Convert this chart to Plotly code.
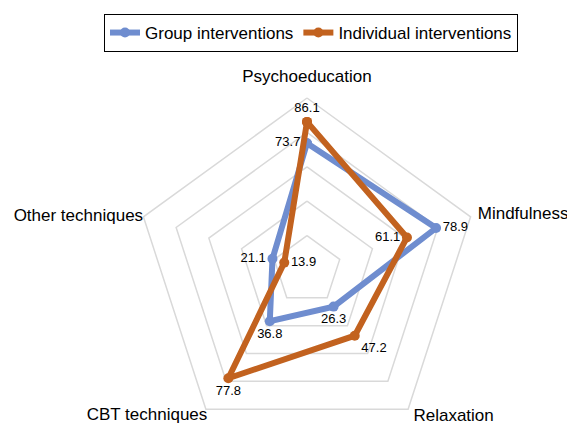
import plotly.graph_objects as go

categories = ["Psychoeducation", "Mindfulness", "Relaxation", "CBT techniques", "Other techniques"]
group_values = [73.7, 78.9, 26.3, 36.8, 21.1]
individual_values = [86.1, 61.1, 47.2, 77.8, 13.9]
grid_levels = [20, 40, 60, 80, 100]

group_label_pos = ["middle left", "middle right", "bottom center", "bottom center", "middle left"]
indiv_label_pos = ["top center", "middle left", "bottom right", "bottom center", "middle right"]
cat_label_r = [111.6, 104.4, 105.3, 98.6, 100.2]
cat_label_pos = ["middle center", "middle right", "middle right", "bottom left", "middle left"]

BLUE = "#6f8dcf"
ORANGE = "#c2621f"
FONT = "Liberation Sans, Arial, Helvetica, sans-serif"

W, H = 575, 460
CX, CY, RPX = 299, 262, 193          # polar centre / radius in figure px
RMAX = RPX / 1.72                      # radial units shown at the edge

closed = categories + [categories[0]]
fig = go.Figure()

for lv in grid_levels:
    fig.add_trace(go.Scatterpolar(
        r=[lv] * len(closed), theta=closed, mode="lines",
        line=dict(color="#d9d9d9", width=1.5), showlegend=False,
        hoverinfo="skip", cliponaxis=False))

for name, vals, col in [("Group interventions", group_values, BLUE),
                        ("Individual interventions", individual_values, ORANGE)]:
    fig.add_trace(go.Scatterpolar(
        r=vals + [vals[0]], theta=closed, mode="lines+markers", name=name,
        line=dict(color=col, width=6), marker=dict(color=col, size=10),
        cliponaxis=False))

for vals, pos in [(group_values, group_label_pos), (individual_values, indiv_label_pos)]:
    fig.add_trace(go.Scatterpolar(
        r=vals, theta=categories, mode="markers+text",
        text=[f"{v:.1f}" for v in vals], textposition=pos,
        textfont=dict(size=13, color="#000000", family=FONT),
        marker=dict(size=9, opacity=0), showlegend=False,
        hoverinfo="skip", cliponaxis=False))

fig.add_trace(go.Scatterpolar(
    r=cat_label_r, theta=categories, mode="text", text=categories,
    textposition=cat_label_pos,
    textfont=dict(size=17, color="#000000", family=FONT),
    showlegend=False, hoverinfo="skip", cliponaxis=False))

fig.update_layout(
    width=W, height=H,
    margin=dict(l=0, r=0, t=0, b=0),
    paper_bgcolor="white",
    font=dict(family=FONT, size=17, color="#000000"),
    polar=dict(
        domain=dict(x=[(CX - RPX) / W, (CX + RPX) / W],
                    y=[(H - CY - RPX) / H, (H - CY + RPX) / H]),
        bgcolor="rgba(0,0,0,0)",
        radialaxis=dict(visible=False, range=[0, RMAX]),
        angularaxis=dict(rotation=90, direction="clockwise", showgrid=False,
                         showline=False, showticklabels=False, ticks="",
                         categoryorder="array", categoryarray=categories),
    ),
    legend=dict(orientation="h", x=303 / W, xanchor="center", y=1 - 6 / H, yanchor="top",
                bordercolor="#000000", borderwidth=1, font=dict(size=17, family=FONT),
                bgcolor="white"),
)

fig.write_html("out.html")
